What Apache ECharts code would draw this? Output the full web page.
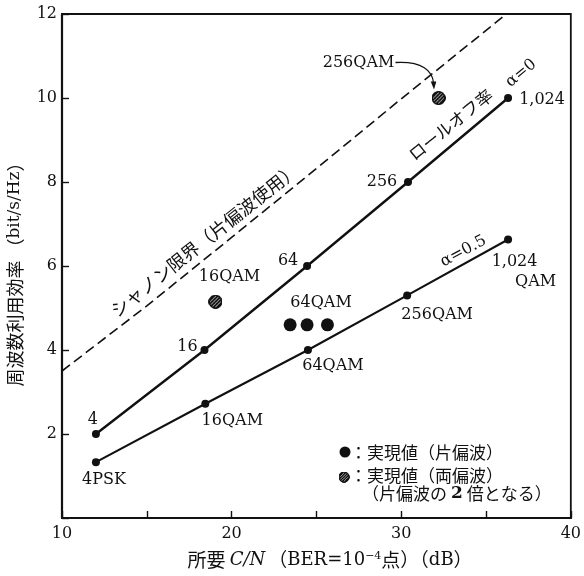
<!DOCTYPE html>
<html>
<head>
<meta charset="utf-8">
<script src="https://cdn.jsdelivr.net/npm/echarts@6/dist/echarts.min.js"></script>
<style>
  html, body { margin: 0; padding: 0; background: #fff; }
  #chart { width: 584px; height: 576px; }
</style>
</head>
<body>
<div id="chart"></div>
<script>
// Required C/N (dB, BER = 1e-4) against spectral efficiency (bit/s/Hz)

// Shannon limit, single polarisation
const shannonCN  = [10, 15, 20, 25, 30, 36.2];
const shannonEff = [3.5, 5.05, 6.68, 8.32, 9.98, 12];

// Roll-off factor alpha = 0
const rolloff0CN     = [12, 18.4, 24.45, 30.4, 36.3];
const rolloff0Eff    = [2, 4, 6, 8, 10];
const rolloff0Labels = ['4', '16', '64', '256', '1,024'];

// Roll-off factor alpha = 0.5
const rolloff05CN     = [12, 18.45, 24.5, 30.35, 36.3];
const rolloff05Eff    = [1.33, 2.72, 4, 5.3, 6.63];
const rolloff05Labels = ['4PSK', '16QAM', '64QAM', '256QAM', '1,024\nQAM'];

// Achieved values, single polarisation (64QAM)
const singlePolCN    = [23.45, 24.45, 25.65];
const singlePolEff   = [4.6, 4.6, 4.6];
const singlePolLabel = '64QAM';

// Achieved values, dual polarisation
const dualPolCN     = [19.05, 32.2];
const dualPolEff    = [5.15, 10];
const dualPolLabels = ['16QAM', '256QAM'];

// Axis tick labels
const xTicks = [10, 20, 30, 40];
const yTicks = [2, 4, 6, 8, 10, 12];

// Text
const xTitle = { pre: '所要 ', italic: 'C/N', open: '（', ber: 'BER=10', sup: '−4', point: '点', close: '）', unitOpen: '（', unit: 'dB', unitClose: '）' };
const yTitle = { main: '周波数利用効率 （', unit: 'bit/s/Hz', close: '）' };
const shannonText = 'シャノン限界（片偏波使用）';
const rolloffText = 'ロールオフ率';
const alpha0Text  = 'α=0';
const alpha05Text = 'α=0.5';
const legendSingle = '：実現値（片偏波）';
const legendDual   = '：実現値（両偏波）';
const legendNote   = ['（片偏波の', '2', '倍となる）'];

const INK = '#111';
const SERIF = '"DejaVu Serif", "Liberation Serif", serif';
const CJK = '"Noto Sans CJK JP", "Noto Sans", sans-serif';

const zip = (a, b) => a.map((v, i) => [v, b[i]]);

// Hatched disc used for the dual-polarisation markers
function hatchedDisc() {
  const S = 40;
  const c = document.createElement('canvas');
  c.width = c.height = S;
  const g = c.getContext('2d');
  const r = S / 2 - 2;
  g.save();
  g.beginPath();
  g.arc(S / 2, S / 2, r, 0, Math.PI * 2);
  g.fillStyle = '#fff';
  g.fill();
  g.clip();
  g.strokeStyle = INK;
  g.lineWidth = 5.5;
  for (let k = -S; k < 2 * S; k += 10) {
    g.beginPath();
    g.moveTo(k, S);
    g.lineTo(k + S, 0);
    g.stroke();
  }
  g.restore();
  g.beginPath();
  g.arc(S / 2, S / 2, r, 0, Math.PI * 2);
  g.lineWidth = 4;
  g.strokeStyle = INK;
  g.stroke();
  return c.toDataURL();
}
const hatchURL = hatchedDisc();

const chart = echarts.init(document.getElementById('chart'), null, { renderer: 'canvas' });

chart.setOption({
  animation: false,
  backgroundColor: '#fff',
  grid: {
    left: 62, right: 10, top: 14, bottom: 58,
    show: true, borderColor: INK, borderWidth: 1.8, backgroundColor: 'transparent'
  },
  xAxis: {
    type: 'value', min: 10, max: 40, interval: 5,
    axisLine: { show: true, lineStyle: { color: INK, width: 2.2 } },
    axisTick: { show: true, inside: true, length: 7, lineStyle: { color: INK, width: 1.4 } },
    axisLabel: {
      margin: 8, color: INK, fontFamily: SERIF, fontSize: 16,
      formatter: v => (xTicks.includes(v) ? String(v) : '')
    },
    splitLine: { show: false }
  },
  yAxis: {
    type: 'value', min: 0, max: 12, interval: 2,
    axisLine: { show: true, lineStyle: { color: INK, width: 2.2 } },
    axisTick: { show: true, inside: true, length: 7, lineStyle: { color: INK, width: 1.4 } },
    axisLabel: {
      margin: 5, color: INK, fontFamily: SERIF, fontSize: 16,
      formatter: v => (yTicks.includes(v) ? String(v) : '')
    },
    splitLine: { show: false }
  },
  series: [
    {
      name: 'shannon', type: 'line', data: zip(shannonCN, shannonEff),
      showSymbol: false, silent: true, z: 2,
      lineStyle: { color: INK, width: 1.6, type: [10, 5] }
    },
    {
      name: 'rolloff0', type: 'line', data: zip(rolloff0CN, rolloff0Eff),
      symbol: 'circle', symbolSize: 8, z: 3,
      itemStyle: { color: INK, opacity: 1 },
      lineStyle: { color: INK, width: 2.4 }
    },
    {
      name: 'rolloff05', type: 'line', data: zip(rolloff05CN, rolloff05Eff),
      symbol: 'circle', symbolSize: 8, z: 3,
      itemStyle: { color: INK, opacity: 1 },
      lineStyle: { color: INK, width: 2.1 }
    },
    {
      name: 'single', type: 'scatter', data: zip(singlePolCN, singlePolEff),
      symbol: 'circle', symbolSize: 13, z: 4,
      itemStyle: { color: INK, opacity: 1 }
    },
    {
      name: 'dual', type: 'scatter', data: zip(dualPolCN, dualPolEff),
      symbol: 'image://' + hatchURL, symbolSize: 14, z: 4,
      itemStyle: { opacity: 1 }
    }
  ]
});

// ---- annotations (placed through the grid's coordinate system) ----
const px = (x, y) => chart.convertToPixel({ gridIndex: 0 }, [x, y]);
const graphics = [];

function text(x, y, str) {
  graphics.push({
    type: 'text', x, y, z: 10,
    style: { text: str, fill: INK, align: 'center', verticalAlign: 'middle', fontFamily: SERIF, fontSize: 16 }
  });
}

// label offsets from each point, one [dx, dy] per text line
const rolloff0Offsets  = [[[-3, -14]], [[-17, -3]], [[-19, -5]], [[-26, 0]], [[34, 2]]];
const rolloff05Offsets = [[[8, 18]], [[27, 17]], [[25, 16]], [[30, 19]], [[6.5, 22], [27.5, 42]]];

rolloff0Labels.forEach((lab, i) => {
  const p = px(rolloff0CN[i], rolloff0Eff[i]);
  lab.split('\n').forEach((line, k) => {
    const o = rolloff0Offsets[i][k];
    text(p[0] + o[0], p[1] + o[1], line);
  });
});
rolloff05Labels.forEach((lab, i) => {
  const p = px(rolloff05CN[i], rolloff05Eff[i]);
  lab.split('\n').forEach((line, k) => {
    const o = rolloff05Offsets[i][k];
    text(p[0] + o[0], p[1] + o[1], line);
  });
});

// achieved-value labels
{
  const p = px(singlePolCN[1], singlePolEff[1]);
  text(p[0] + 14, p[1] - 22, singlePolLabel);
}
{
  const p = px(dualPolCN[0], dualPolEff[0]);
  text(p[0] + 14, p[1] - 25, dualPolLabels[0]);
}
{
  const p = px(dualPolCN[1], dualPolEff[1]);
  text(p[0] - 80, p[1] - 35, dualPolLabels[1]);
  // curved leader with arrow head
  graphics.push({
    type: 'bezierCurve', z: 10,
    shape: {
      x1: p[0] - 43, y1: p[1] - 35.5,
      cpx1: p[0] - 16, cpy1: p[1] - 37,
      cpx2: p[0] - 6, cpy2: p[1] - 27,
      x2: p[0] - 5, y2: p[1] - 15
    },
    style: { stroke: INK, lineWidth: 1.3, fill: null }
  });
  graphics.push({
    type: 'polygon', z: 10,
    shape: { points: [[p[0] - 4.5, p[1] - 8.5], [p[0] - 7.8, p[1] - 16.5], [p[0] - 2.2, p[1] - 16.5]] },
    style: { fill: INK }
  });
}

// rotated captions along the lines
const captions = [
  { str: shannonText, at: [18.4, 6.62], deg: 38.5, font: CJK, size: 18 },
  { str: rolloffText, at: [32.91, 9.37], deg: 38.7, font: CJK, size: 17 },
  { str: alpha0Text,  at: [37.07, 10.59], deg: 40, font: SERIF, size: 16 },
  { str: alpha05Text, at: [33.67, 6.35], deg: 28, font: SERIF, size: 16 }
];
captions.forEach(c => {
  const p = px(c.at[0], c.at[1]);
  graphics.push({
    type: 'text', x: p[0], y: p[1], rotation: c.deg * Math.PI / 180, z: 10,
    style: { text: c.str, fill: INK, fontFamily: c.font, fontSize: c.size, align: 'center', verticalAlign: 'middle' }
  });
});

// legend
graphics.push({ type: 'circle', z: 10, shape: { cx: 345, cy: 452, r: 5.5 }, style: { fill: INK } });
graphics.push({
  type: 'text', x: 350, y: 453, z: 10,
  style: { text: legendSingle, fill: INK, fontFamily: CJK, fontSize: 17, align: 'left', verticalAlign: 'middle' }
});
graphics.push({
  type: 'image', z: 10,
  style: { image: hatchURL, x: 338.5, y: 471.5, width: 11, height: 11 }
});
graphics.push({
  type: 'text', x: 350, y: 476, z: 10,
  style: { text: legendDual, fill: INK, fontFamily: CJK, fontSize: 17, align: 'left', verticalAlign: 'middle' }
});
graphics.push({
  type: 'text', x: 362, y: 494, z: 10,
  style: {
    text: '{c|' + legendNote[0] + '}{d|' + legendNote[1] + '}{c|' + legendNote[2] + '}',
    fill: INK, align: 'left', verticalAlign: 'middle',
    rich: {
      c: { fontFamily: CJK, fontSize: 17, fill: INK },
      d: { fontFamily: SERIF, fontSize: 17, fontWeight: 'bold', fill: INK, padding: [0, 4, 0, 4] }
    }
  }
});

// axis titles
graphics.push({
  type: 'text', x: 330, y: 560, z: 10,
  style: {
    text: '{c|' + xTitle.pre + '}{i|' + xTitle.italic + '}{c|' + xTitle.open + '}{s|' + xTitle.ber +
          '}{p|' + xTitle.sup + '}{c|' + xTitle.point + xTitle.close + xTitle.unitOpen + '}{s|' + xTitle.unit +
          '}{c|' + xTitle.unitClose + '}',
    align: 'center', verticalAlign: 'middle', fill: INK,
    rich: {
      c: { fontFamily: CJK, fontSize: 19, fill: INK },
      i: { fontFamily: SERIF, fontStyle: 'italic', fontSize: 18, fill: INK, padding: [0, 3, 0, 0] },
      s: { fontFamily: SERIF, fontSize: 18, fill: INK },
      p: { fontFamily: SERIF, fontSize: 11, fill: INK, verticalAlign: 'top' }
    }
  }
});
graphics.push({
  type: 'text', x: 15, y: 270, rotation: Math.PI / 2, z: 10,
  style: {
    text: '{c|' + yTitle.main + '}{s|' + yTitle.unit + '}{c|' + yTitle.close + '}',
    align: 'center', verticalAlign: 'middle', fill: INK,
    rich: {
      c: { fontFamily: CJK, fontSize: 18, fill: INK },
      s: { fontFamily: SERIF, fontSize: 17, fill: INK }
    }
  }
});

chart.setOption({ graphic: { elements: graphics } });
</script>
</body>
</html>
